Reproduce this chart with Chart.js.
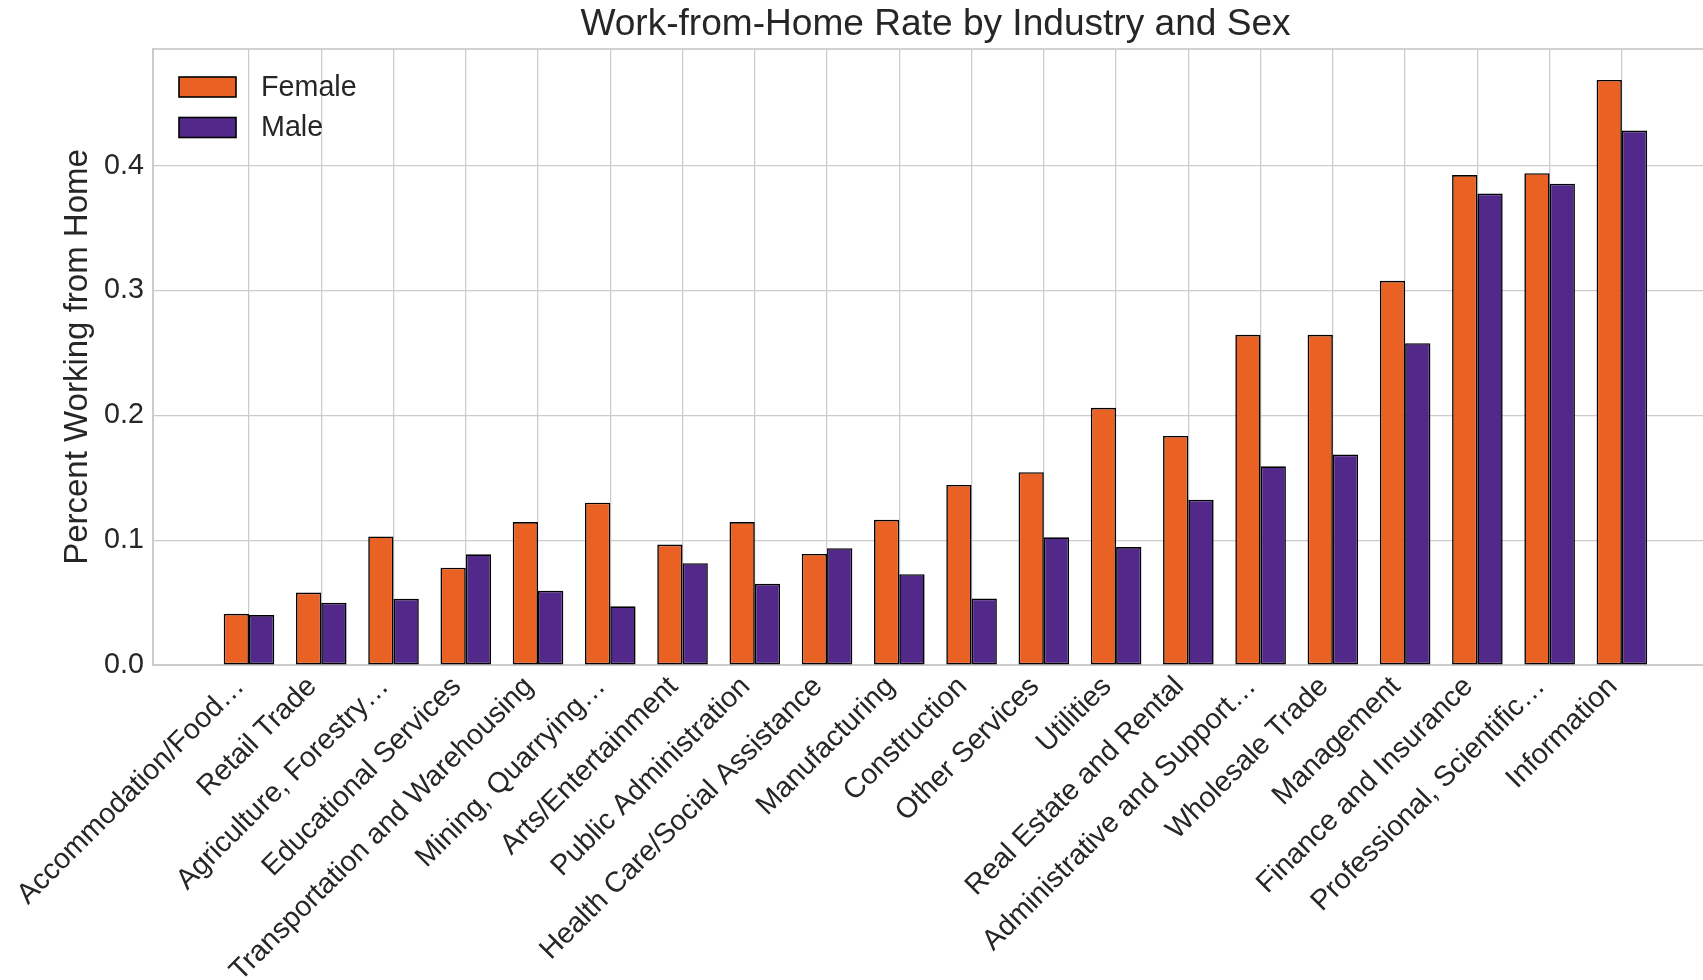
<!DOCTYPE html>
<html>
<head>
<meta charset="utf-8">
<script src="https://cdn.jsdelivr.net/npm/chart.js@4/dist/chart.umd.min.js"></script>
<style>
  html, body { margin: 0; padding: 0; background: #ffffff; overflow: hidden; width: 1703px; height: 980px; }
  #wrap { width: 1720px; height: 980px; }
</style>
</head>
<body>
<div id="wrap"><canvas id="c" width="1720" height="980"></canvas></div>
<script>
const categories = [
  "Accommodation/Food…", "Retail Trade", "Agriculture, Forestry…", "Educational Services",
  "Transportation and Warehousing", "Mining, Quarrying…", "Arts/Entertainment", "Public Administration",
  "Health Care/Social Assistance", "Manufacturing", "Construction", "Other Services", "Utilities",
  "Real Estate and Rental", "Administrative and Support…", "Wholesale Trade", "Management",
  "Finance and Insurance", "Professional, Scientific…", "Information"
];
const femaleValues = [0.041, 0.058, 0.103, 0.078, 0.1145, 0.130, 0.0965, 0.1145, 0.089, 0.1163,
  0.1443, 0.1545, 0.206, 0.1835, 0.2645, 0.2645, 0.3078, 0.3925, 0.394, 0.4687];
const maleValues = [0.040, 0.0498, 0.053, 0.0887, 0.0594, 0.047, 0.0815, 0.065, 0.0936, 0.0727,
  0.0532, 0.1023, 0.0945, 0.1323, 0.1592, 0.1686, 0.2578, 0.3777, 0.3856, 0.4282];
const yTickValues = [0.0, 0.1, 0.2, 0.3, 0.4];
const seriesNames = ["Female", "Male"];

const FONT = "'Liberation Sans', Arial, Helvetica, sans-serif";
const TEXT = "#262626";
const GRID = "#cccccc";
const ORANGE = "#ea6124";
const PURPLE = "#52288a";
const TICK_SIZE = 28.7;

const frame = {
  id: 'frame',
  beforeDatasetsDraw(chart) {
    const { ctx, chartArea: a } = chart;
    ctx.save();
    ctx.strokeStyle = GRID;
    ctx.lineWidth = 1.8;
    ctx.strokeRect(a.left, a.top, a.right - a.left, a.bottom - a.top);
    ctx.restore();
  }
};

const innerLegend = {
  id: 'innerLegend',
  afterDraw(chart) {
    const { ctx } = chart;
    ctx.save();
    chart.data.datasets.forEach((ds, i) => {
      const y = 77 + i * 40.5;
      ctx.fillStyle = ds.backgroundColor;
      ctx.fillRect(179, y, 57, 20);
      ctx.strokeStyle = '#000000';
      ctx.lineWidth = 1.6;
      ctx.strokeRect(179, y, 57, 20);
      ctx.fillStyle = TEXT;
      ctx.font = TICK_SIZE + "px " + FONT;
      ctx.textAlign = 'left';
      ctx.textBaseline = 'middle';
      ctx.fillText(ds.label, 261, y + 11);
    });
    ctx.restore();
  }
};

const toPoints = arr => arr.map((v, i) => ({ x: i, y: v }));

new Chart(document.getElementById('c'), {
  type: 'bar',
  data: {
    datasets: [
      { label: seriesNames[0], data: toPoints(femaleValues), backgroundColor: ORANGE,
        borderColor: '#000000', borderWidth: 1.6, borderSkipped: false },
      { label: seriesNames[1], data: toPoints(maleValues), backgroundColor: PURPLE,
        borderColor: '#000000', borderWidth: 1.6, borderSkipped: false }
    ]
  },
  options: {
    responsive: false,
    animation: false,
    devicePixelRatio: 1,
    categoryPercentage: 0.7,
    barPercentage: 1.0,
    layout: { padding: { left: 0, right: 2, top: 0, bottom: 0 } },
    plugins: {
      legend: { display: false },
      tooltip: { enabled: false },
      title: {
        display: true,
        text: 'Work-from-Home Rate by Industry and Sex',
        fullSize: false,
        color: TEXT,
        font: { family: FONT, size: 37.1, weight: 'normal', lineHeight: 1.2 },
        padding: { top: 3, bottom: 1.5 }
      }
    },
    scales: {
      x: {
        type: 'linear',
        offset: false,
        min: -1.3285,
        max: 20.33,
        grid: { offset: false, color: GRID, lineWidth: 1.25, drawTicks: false },
        border: { display: true, color: GRID, width: 1.8 },
        afterBuildTicks: axis => { axis.ticks = categories.map((c, i) => ({ value: i })); },
        afterFit: scale => { scale.height = 315; },
        ticks: {
          autoSkip: false,
          maxRotation: 45,
          minRotation: 45,
          padding: 5,
          labelOffset: -9,
          color: TEXT,
          font: { family: FONT, size: TICK_SIZE },
          callback: v => categories[v]
        }
      },
      y: {
        min: 0,
        max: 0.4935,
        grid: { color: GRID, lineWidth: 1.25, drawTicks: false },
        border: { display: true, color: GRID, width: 1.8 },
        afterBuildTicks: axis => { axis.ticks = yTickValues.map(v => ({ value: v })); },
        afterFit: scale => { scale.width = 153; },
        ticks: {
          padding: 9,
          color: TEXT,
          font: { family: FONT, size: TICK_SIZE },
          callback: v => Number(v).toFixed(1)
        },
        title: {
          display: true,
          text: 'Percent Working from Home',
          color: TEXT,
          font: { family: FONT, size: 33, lineHeight: 1.2 },
          padding: { top: 58, bottom: 0 }
        }
      }
    }
  },
  plugins: [frame, innerLegend]
});
</script>
</body>
</html>
